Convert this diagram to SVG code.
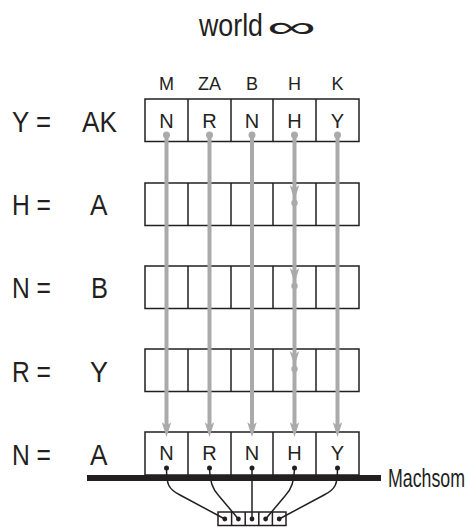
<svg xmlns="http://www.w3.org/2000/svg" width="468" height="527" viewBox="0 0 468 527">
<style>
text{font-family:"Liberation Sans",Arial,sans-serif;fill:#231f20}
.lbl{font-size:30px}
.hdr{font-size:18px;text-anchor:middle}
.cell{font-size:20px;text-anchor:middle}
.box{fill:#fff;stroke:#231f20;stroke-width:1.5}
.div{stroke:#231f20;stroke-width:1.5}
.gl{stroke:#aaaaaa;stroke-width:4;fill:none}
.gd{fill:#aaaaaa}
.bl{stroke:#231f20;stroke-width:1.5;fill:none}
.bd{fill:#231f20}
</style>
<defs>
<path id="ah" d="M0,0 L-4.8,-15 L0,-11 L4.8,-15 Z" fill="#aaaaaa"/>
<g id="cells">
<rect class="box" x="145" y="0" width="214" height="42.5"/>
<path class="div" d="M188,0V42.5M231,0V42.5M273,0V42.5M316,0V42.5"/>
</g>
</defs>

<g id="title">
<text transform="translate(199,36) scale(1,1.15)" font-size="27" textLength="64" lengthAdjust="spacingAndGlyphs">world</text>
<text transform="translate(267,37) scale(2.3,1)" font-family="'Liberation Serif', serif" font-size="30">∞</text>
</g>

<g id="headers">
<text class="hdr" x="166.5" y="90">M</text>
<text class="hdr" x="209.5" y="90">ZA</text>
<text class="hdr" x="252" y="90">B</text>
<text class="hdr" x="294.5" y="90">H</text>
<text class="hdr" x="337.5" y="90">K</text>
</g>

<g id="row1">
<text class="lbl" x="12" y="132" textLength="39" lengthAdjust="spacingAndGlyphs">Y =</text>
<text class="lbl" x="82" y="132" textLength="35" lengthAdjust="spacingAndGlyphs">AK</text>
<use href="#cells" y="99"/>
<text class="cell" x="166.5" y="128">N</text>
<text class="cell" x="209.5" y="128">R</text>
<text class="cell" x="252" y="128">N</text>
<text class="cell" x="294.5" y="128">H</text>
<text class="cell" x="337.5" y="128">Y</text>
</g>

<g id="row2">
<text class="lbl" x="12" y="215" textLength="39" lengthAdjust="spacingAndGlyphs">H =</text>
<text class="lbl" x="90" y="215" textLength="17.5" lengthAdjust="spacingAndGlyphs">A</text>
<use href="#cells" y="183"/>
</g>

<g id="row3">
<text class="lbl" x="12" y="298" textLength="39" lengthAdjust="spacingAndGlyphs">N =</text>
<text class="lbl" x="91" y="298" textLength="17" lengthAdjust="spacingAndGlyphs">B</text>
<use href="#cells" y="266"/>
</g>

<g id="row4">
<text class="lbl" x="12" y="382" textLength="39" lengthAdjust="spacingAndGlyphs">R =</text>
<text class="lbl" x="90" y="382" textLength="18" lengthAdjust="spacingAndGlyphs">Y</text>
<use href="#cells" y="349"/>
</g>

<g id="row5">
<text class="lbl" x="12" y="465" textLength="39" lengthAdjust="spacingAndGlyphs">N =</text>
<text class="lbl" x="90" y="465" textLength="17.5" lengthAdjust="spacingAndGlyphs">A</text>
<rect class="box" x="145" y="432" width="214" height="43"/>
<path class="div" d="M188,432V475M231,432V475M273,432V475M316,432V475"/>
<text class="cell" x="166.5" y="460">N</text>
<text class="cell" x="209.5" y="460">R</text>
<text class="cell" x="252" y="460">N</text>
<text class="cell" x="294.5" y="460">H</text>
<text class="cell" x="337.5" y="460">Y</text>
</g>

<g id="machsom">
<rect x="87" y="475" width="294" height="6" fill="#231f20"/>
<text transform="translate(388,486.5) scale(1,1.45)" font-size="17.5" textLength="77" lengthAdjust="spacingAndGlyphs">Machsom</text>
</g>

<g id="slots">
<rect class="box" x="218" y="512" width="68" height="13.5" stroke-width="1.2"/>
<path class="div" stroke-width="1.2" d="M231.6,512V525.5M245.2,512V525.5M258.8,512V525.5M272.4,512V525.5"/>
<circle class="bd" cx="224.8" cy="519" r="2.4"/>
<circle class="bd" cx="238.4" cy="519" r="2.4"/>
<circle class="bd" cx="252" cy="519" r="2.4"/>
<circle class="bd" cx="265.6" cy="519" r="2.4"/>
<circle class="bd" cx="279.2" cy="519" r="2.4"/>
</g>

<g id="connectors">
<path class="gl" d="M166.5,135V428M209.5,135V428M252,135V428M294.5,135V428M337.5,135V428"/>
<circle class="gd" cx="166.5" cy="135" r="3.5"/>
<circle class="gd" cx="209.5" cy="135" r="3.5"/>
<circle class="gd" cx="252" cy="135" r="3.5"/>
<circle class="gd" cx="294.5" cy="135" r="3.5"/>
<circle class="gd" cx="337.5" cy="135" r="3.5"/>
<use href="#ah" x="166.5" y="437"/>
<use href="#ah" x="209.5" y="437"/>
<use href="#ah" x="252" y="437"/>
<use href="#ah" x="294.5" y="437"/>
<use href="#ah" x="337.5" y="437"/>
<use href="#ah" x="294.5" y="200"/>
<use href="#ah" x="294.5" y="283"/>
<use href="#ah" x="294.5" y="366"/>
<circle class="gd" cx="294.5" cy="203" r="3.2"/>
<circle class="gd" cx="294.5" cy="286" r="3.2"/>
<circle class="gd" cx="294.5" cy="369" r="3.2"/>
<path class="bl" d="M166.5,468C166.5,484 168,489 180,495L224.8,519"/>
<path class="bl" d="M209.5,468C209.5,481 212,489 219,496L238.4,519"/>
<path class="bl" d="M252,468V519"/>
<path class="bl" d="M294.5,468C294.5,481 292,489 285,496L265.6,519"/>
<path class="bl" d="M337.5,468C337.5,484 336,489 324,495L279.2,519"/>
<circle class="bd" cx="166.5" cy="468" r="2.5"/>
<circle class="bd" cx="209.5" cy="468" r="2.5"/>
<circle class="bd" cx="252" cy="468" r="2.5"/>
<circle class="bd" cx="294.5" cy="468" r="2.5"/>
<circle class="bd" cx="337.5" cy="468" r="2.5"/>
</g>
</svg>
